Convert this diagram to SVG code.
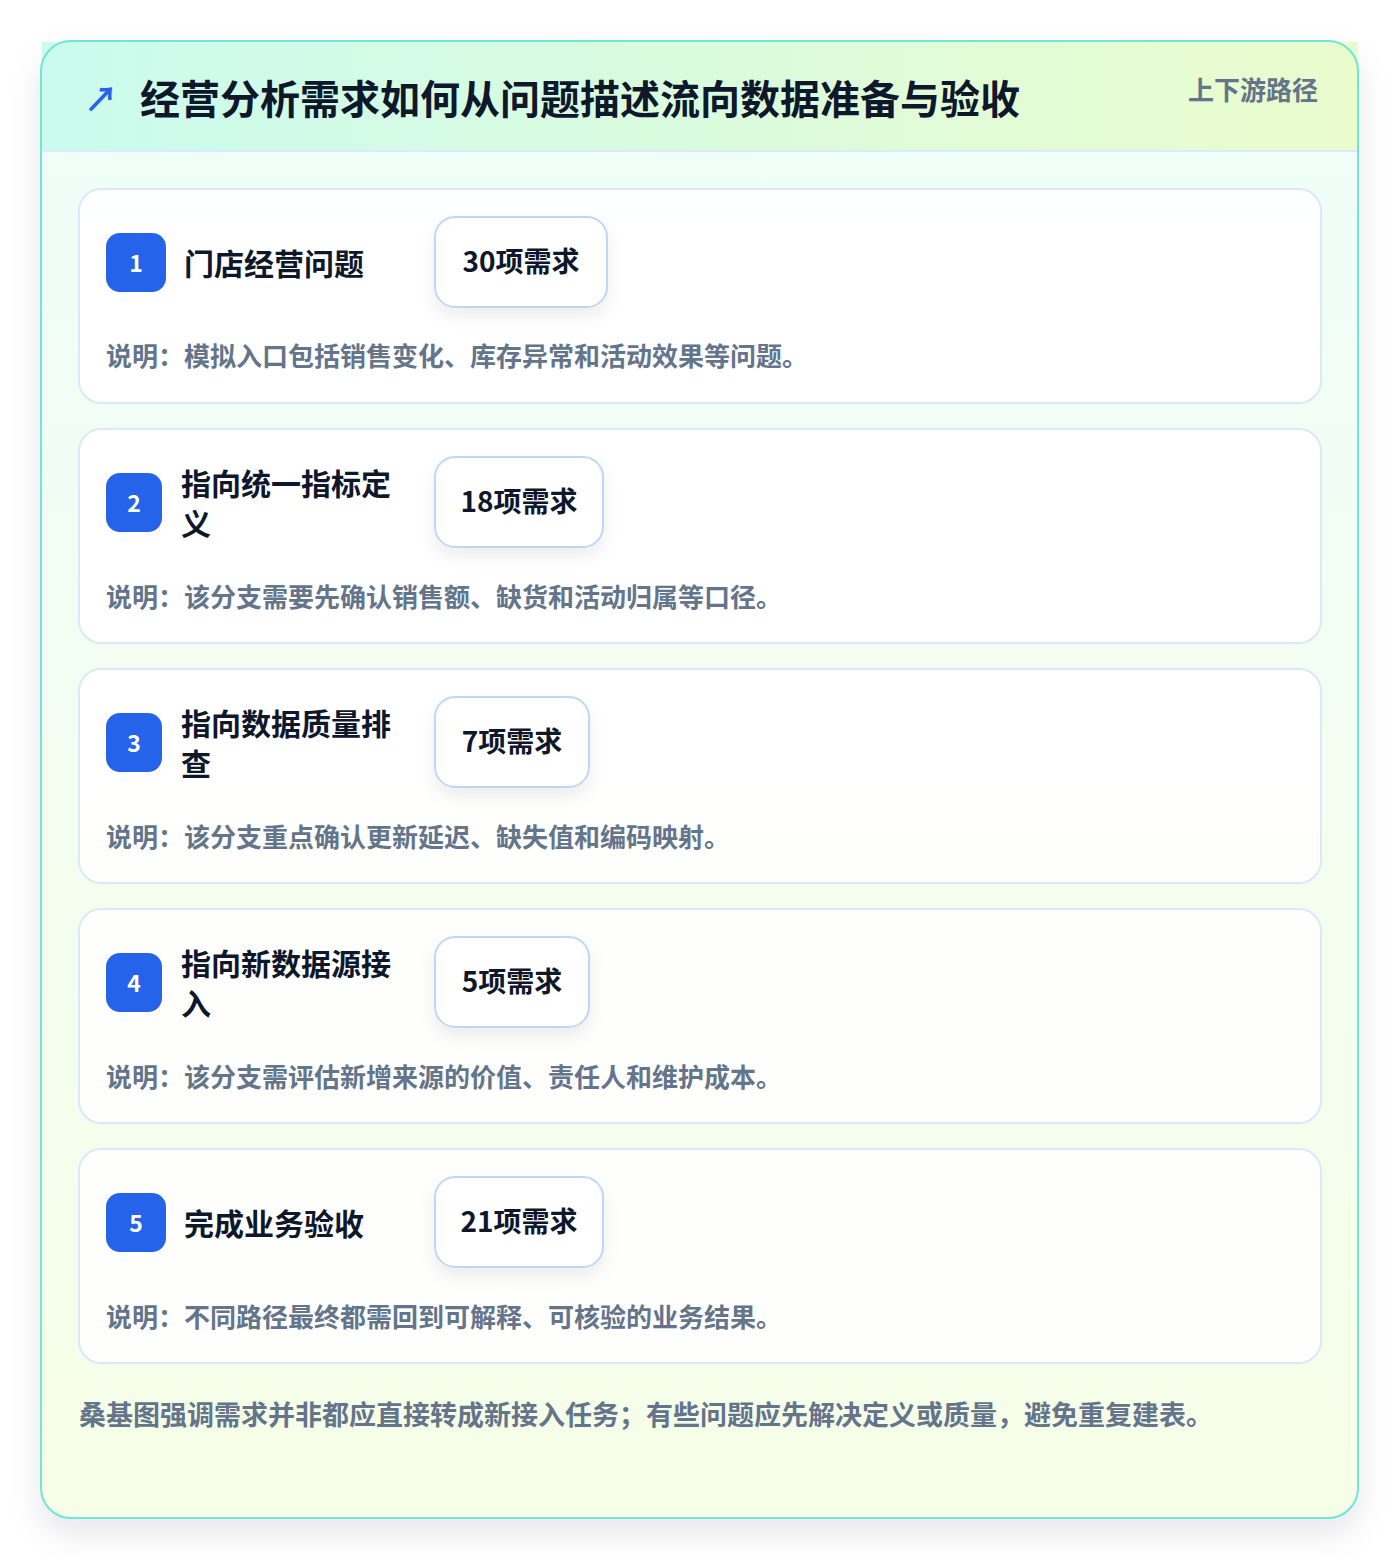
<svg xmlns="http://www.w3.org/2000/svg" width="1400" height="1560" viewBox="0 0 1400 1560">
<defs>
<linearGradient id="hdr" x1="0" y1="0" x2="1" y2="0">
<stop offset="0" stop-color="#cbfbee"/>
<stop offset="1" stop-color="#eafccd"/>
</linearGradient>
<linearGradient id="body" x1="0" y1="0" x2="0" y2="1">
<stop offset="0" stop-color="#effdf9"/>
<stop offset="1" stop-color="#f6fee7"/>
</linearGradient>
<filter id="sh" x="-10%" y="-10%" width="120%" height="120%">
<feDropShadow dx="0" dy="14" stdDeviation="16" flood-color="#0f172a" flood-opacity="0.10"/>
</filter>
<filter id="psh" x="-30%" y="-30%" width="160%" height="180%">
<feDropShadow dx="0" dy="8" stdDeviation="8" flood-color="#0f172a" flood-opacity="0.07"/>
</filter>
</defs>
<style>
text{font-family:"Noto Sans CJK SC","Noto Sans",sans-serif;font-weight:700}
.card{fill:#ffffff;fill-opacity:0.88;stroke:#dbe8fb;stroke-width:2}
.badge{fill:#2563eb}
.bnum{fill:#ffffff;font-size:23px;text-anchor:middle;dominant-baseline:central}
.ttl{fill:#0f172a;font-size:30px;dominant-baseline:central}
.pill{fill:#ffffff;stroke:#bfd7f6;stroke-width:2}
.ptxt{fill:#0f172a;font-size:28px;text-anchor:middle;dominant-baseline:central}
.desc{fill:#64748b;font-size:26px;dominant-baseline:central}
</style>
<rect width="1400" height="1560" fill="#ffffff"/>
<g id="frame">
<rect x="41" y="41" width="1317" height="1477" rx="30" fill="url(#body)" filter="url(#sh)"/>
<rect x="42" y="42" width="1316" height="109" fill="url(#hdr)"/>
<line x1="42" y1="151" x2="1358" y2="151" stroke="#dbeafe" stroke-width="2"/>
<rect x="41" y="41" width="1317" height="1477" rx="30" fill="none" stroke="#6ee7d4" stroke-width="2"/>
<text x="101" y="97" font-size="34" fill="#2563eb" text-anchor="middle" dominant-baseline="central">↗</text>
<text x="140" y="97" font-size="40" fill="#0f172a" dominant-baseline="central">经营分析需求如何从问题描述流向数据准备与验收</text>
<text x="1318" y="88" font-size="26" fill="#64748b" text-anchor="end" dominant-baseline="central">上下游路径</text>
</g>
<g id="connectors"></g>
<g id="node1">
<rect class="card" x="79" y="189" width="1242" height="214" rx="22"/>
<rect class="badge" x="106" y="233" width="60" height="59" rx="14"/>
<text class="bnum" x="136" y="261.5">1</text>
<text class="ttl" x="184" y="262">门店经营问题</text>
<rect class="pill" x="435" y="217" width="172" height="90" rx="20" filter="url(#psh)"/>
<text class="ptxt" x="521" y="259.5">30项需求</text>
<text class="desc" x="106" y="354.5">说明：模拟入口包括销售变化、库存异常和活动效果等问题。</text>
</g>
<g id="node2">
<rect class="card" x="79" y="429" width="1242" height="214" rx="22"/>
<rect class="badge" x="106" y="473" width="56" height="59" rx="14"/>
<text class="bnum" x="134" y="501.5">2</text>
<text class="ttl" x="181" y="482">指向统一指标定</text>
<text class="ttl" x="181" y="522">义</text>
<rect class="pill" x="435" y="457" width="168" height="90" rx="20" filter="url(#psh)"/>
<text class="ptxt" x="519" y="499.5">18项需求</text>
<text class="desc" x="106" y="595.5">说明：该分支需要先确认销售额、缺货和活动归属等口径。</text>
</g>
<g id="node3">
<rect class="card" x="79" y="669" width="1242" height="214" rx="22"/>
<rect class="badge" x="106" y="713" width="56" height="59" rx="14"/>
<text class="bnum" x="134" y="741.5">3</text>
<text class="ttl" x="181" y="722">指向数据质量排</text>
<text class="ttl" x="181" y="762">查</text>
<rect class="pill" x="435" y="697" width="154" height="90" rx="20" filter="url(#psh)"/>
<text class="ptxt" x="512" y="739.5">7项需求</text>
<text class="desc" x="106" y="835.5">说明：该分支重点确认更新延迟、缺失值和编码映射。</text>
</g>
<g id="node4">
<rect class="card" x="79" y="909" width="1242" height="214" rx="22"/>
<rect class="badge" x="106" y="953" width="56" height="59" rx="14"/>
<text class="bnum" x="134" y="981.5">4</text>
<text class="ttl" x="181" y="962">指向新数据源接</text>
<text class="ttl" x="181" y="1002">入</text>
<rect class="pill" x="435" y="937" width="154" height="90" rx="20" filter="url(#psh)"/>
<text class="ptxt" x="512" y="979.5">5项需求</text>
<text class="desc" x="106" y="1075.5">说明：该分支需评估新增来源的价值、责任人和维护成本。</text>
</g>
<g id="node5">
<rect class="card" x="79" y="1149" width="1242" height="214" rx="22"/>
<rect class="badge" x="106" y="1193" width="60" height="59" rx="14"/>
<text class="bnum" x="136" y="1221.5">5</text>
<text class="ttl" x="184" y="1222">完成业务验收</text>
<rect class="pill" x="435" y="1177" width="168" height="90" rx="20" filter="url(#psh)"/>
<text class="ptxt" x="519" y="1219.5">21项需求</text>
<text class="desc" x="106" y="1315.5">说明：不同路径最终都需回到可解释、可核验的业务结果。</text>
</g>
<text x="79" y="1413" font-size="27" fill="#64748b" dominant-baseline="central">桑基图强调需求并非都应直接转成新接入任务；有些问题应先解决定义或质量，避免重复建表。</text>
</svg>
